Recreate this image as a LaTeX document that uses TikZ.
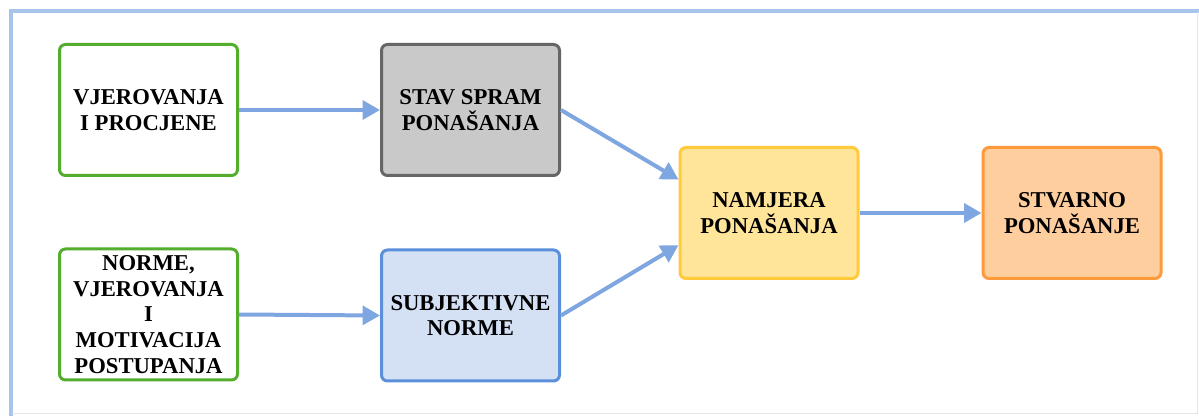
\documentclass[tikz,border=0pt]{standalone}
\usepackage{fontspec}
\setmainfont{Liberation Serif}
\usetikzlibrary{arrows.meta,calc}
\definecolor{greenb}{HTML}{52AE2C}
\definecolor{grayf}{HTML}{C9C9C9}
\definecolor{grayb}{HTML}{666666}
\definecolor{bluef}{HTML}{D4E1F5}
\definecolor{blueb}{HTML}{5B8FD9}
\definecolor{yellowf}{HTML}{FFE599}
\definecolor{yellowb}{HTML}{FFCB3A}
\definecolor{orangef}{HTML}{FFCE9F}
\definecolor{orangeb}{HTML}{FF9A3A}
\definecolor{arrowc}{HTML}{7EA6E0}
\definecolor{framec}{HTML}{A9C4EB}
\begin{document}
\begin{tikzpicture}[x=0.75pt,y=-0.75pt,
  box/.style={draw, line width=2.25pt, rounded corners=4.5pt, minimum width=133.5pt,
    minimum height=98.25pt, align=center, inner sep=2pt,
    font=\bfseries\fontsize{17}{19.3}\selectfont, text=black},
  conn/.style={draw=arrowc, line width=3pt, -{Triangle[length=13pt,width=14pt]}}]
  \fill[white] (0,0) rectangle (1199,416);
  \useasboundingbox (0,0) rectangle (1199,416);
  % frame
  \draw[framec, line width=3pt] (11,416) -- (11,11) -- (1199,11);
  \draw[gray!20, line width=0.75pt] (12,413.5) -- (1197,413.5) -- (1197,12);
  % nodes
  \node[box, draw=greenb, fill=white] (b1) at (148.5,110) {VJEROVANJA\\I PROCJENE};
  \node[box, draw=grayb, fill=grayf] (b2) at (470.5,110) {STAV SPRAM\\PONAŠANJA};
  \node[box, draw=greenb, fill=white] (b3) at (148.5,314.5) {NORME,\\VJEROVANJA\\I\\MOTIVACIJA\\POSTUPANJA};
  \node[box, draw=blueb, fill=bluef] (b4) at (470.5,315.5) {SUBJEKTIVNE\\NORME};
  \node[box, draw=yellowb, fill=yellowf] (b5) at (769,213) {NAMJERA\\PONAŠANJA};
  \node[box, draw=orangeb, fill=orangef] (b6) at (1072,213) {STVARNO\\PONAŠANJE};
  % connectors
  \draw[conn] (b1.east) -- (b2.west);
  \draw[conn] (b3.east) -- (b4.west);
  \draw[conn] (b2.east) -- ($(b5.north west)!0.25!(b5.south west)$);
  \draw[conn] (b4.east) -- ($(b5.north west)!0.74!(b5.south west)$);
  \draw[conn] (b5.east) -- (b6.west);
\end{tikzpicture}
\end{document}
